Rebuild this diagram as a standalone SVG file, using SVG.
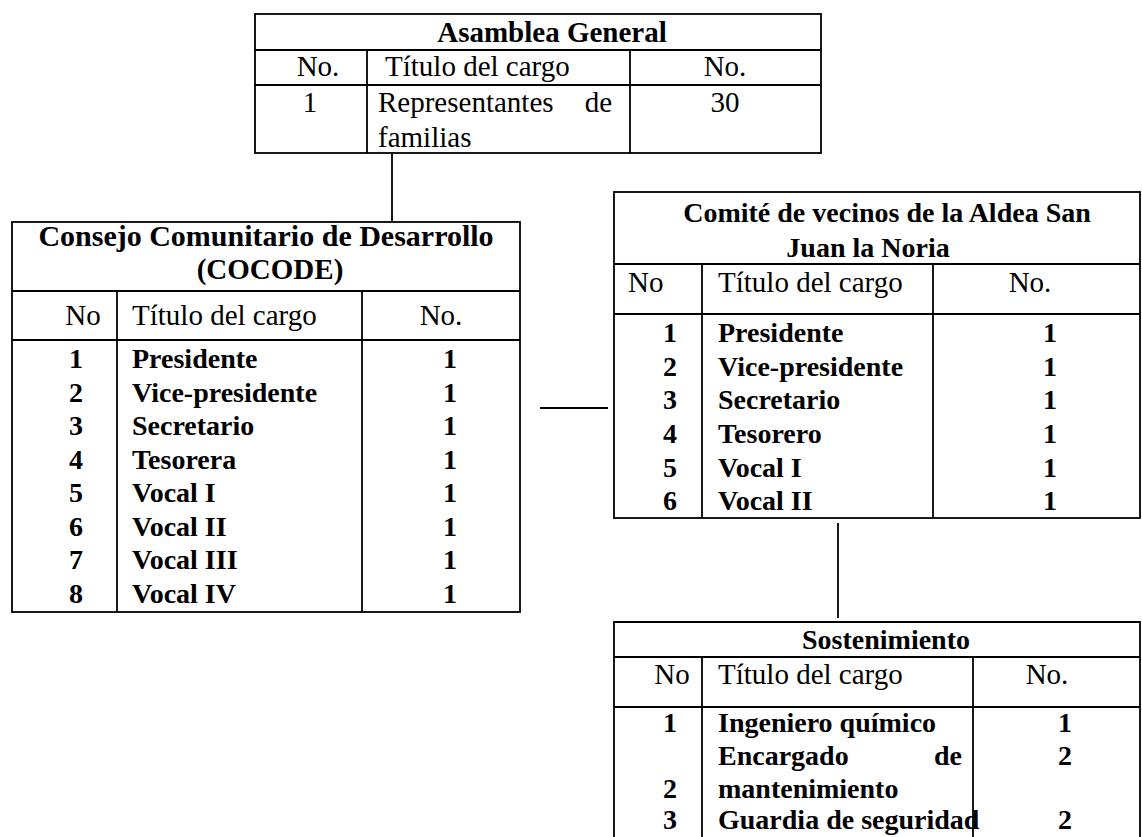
<svg xmlns="http://www.w3.org/2000/svg" width="1142" height="837" viewBox="0 0 1142 837">
<style>
  text { font-family: "Liberation Serif", "Times New Roman", serif; fill: #000; }
  .t { font-size: 29px; font-weight: bold; }
  .h { font-size: 29px; }
  .d { font-size: 28px; font-weight: bold; }
  .m { text-anchor: middle; }
  .e { text-anchor: end; }
  .box { fill: #fff; stroke: #000; stroke-width: 1.8; }
  .ln { stroke: #000; stroke-width: 1.8; fill: none; }
</style>
<rect x="0" y="0" width="1142" height="837" fill="#fff"/>

<g id="connectors">
  <line class="ln" x1="392" y1="153" x2="392" y2="222"/>
  <line class="ln" x1="540" y1="408" x2="608" y2="408"/>
  <line class="ln" x1="838" y1="523" x2="838" y2="618"/>
</g>

<g id="asamblea">
  <rect class="box" x="255" y="14" width="566" height="139"/>
  <line class="ln" x1="255" y1="50" x2="821" y2="50"/>
  <line class="ln" x1="255" y1="85" x2="821" y2="85"/>
  <line class="ln" x1="367" y1="50" x2="367" y2="153"/>
  <line class="ln" x1="630" y1="50" x2="630" y2="153"/>
  <text class="t m" x="552" y="42">Asamblea General</text>
  <text class="h m" x="318" y="76">No.</text>
  <text class="h" x="385" y="76">Título del cargo</text>
  <text class="h m" x="725" y="76">No.</text>
  <text class="h m" x="310" y="112">1</text>
  <text class="h" y="112"><tspan x="378">Representantes</tspan><tspan x="612" text-anchor="end">de</tspan></text>
  <text class="h" x="378" y="147">familias</text>
  <text class="h m" x="725" y="112">30</text>
</g>

<g id="cocode">
  <rect class="box" x="12" y="222" width="508" height="390"/>
  <line class="ln" x1="12" y1="291" x2="520" y2="291"/>
  <line class="ln" x1="12" y1="340" x2="520" y2="340"/>
  <line class="ln" x1="117" y1="291" x2="117" y2="612"/>
  <line class="ln" x1="362" y1="291" x2="362" y2="612"/>
  <text class="t m" x="266" y="246" style="font-size:30px">Consejo Comunitario de Desarrollo</text>
  <text class="t m" x="270" y="279">(COCODE)</text>
  <text class="h m" x="83" y="325">No</text>
  <text class="h" x="132" y="325">Título del cargo</text>
  <text class="h m" x="441" y="325">No.</text>
  <g class="d">
    <text class="m" x="76" y="368">1</text><text x="132" y="368">Presidente</text><text class="m" x="450" y="368">1</text>
    <text class="m" x="76" y="402">2</text><text x="132" y="402">Vice-presidente</text><text class="m" x="450" y="402">1</text>
    <text class="m" x="76" y="435">3</text><text x="132" y="435">Secretario</text><text class="m" x="450" y="435">1</text>
    <text class="m" x="76" y="469">4</text><text x="132" y="469">Tesorera</text><text class="m" x="450" y="469">1</text>
    <text class="m" x="76" y="502">5</text><text x="132" y="502">Vocal I</text><text class="m" x="450" y="502">1</text>
    <text class="m" x="76" y="536">6</text><text x="132" y="536">Vocal II</text><text class="m" x="450" y="536">1</text>
    <text class="m" x="76" y="569">7</text><text x="132" y="569">Vocal III</text><text class="m" x="450" y="569">1</text>
    <text class="m" x="76" y="603">8</text><text x="132" y="603">Vocal IV</text><text class="m" x="450" y="603">1</text>
  </g>
</g>

<g id="comite">
  <rect class="box" x="614" y="192" width="526" height="326"/>
  <line class="ln" x1="614" y1="264" x2="1140" y2="264"/>
  <line class="ln" x1="614" y1="314" x2="1140" y2="314"/>
  <line class="ln" x1="702" y1="264" x2="702" y2="518"/>
  <line class="ln" x1="933" y1="264" x2="933" y2="518"/>
  <text class="t m" x="887" y="222" style="font-size:28px">Comité de vecinos de la Aldea San</text>
  <text class="t m" x="868" y="257" style="font-size:28px">Juan la Noria</text>
  <text class="h" x="628" y="292">No</text>
  <text class="h" x="718" y="292">Título del cargo</text>
  <text class="h m" x="1030" y="292">No.</text>
  <g class="d">
    <text class="m" x="670" y="342">1</text><text x="718" y="342">Presidente</text><text class="m" x="1050" y="342">1</text>
    <text class="m" x="670" y="376">2</text><text x="718" y="376">Vice-presidente</text><text class="m" x="1050" y="376">1</text>
    <text class="m" x="670" y="409">3</text><text x="718" y="409">Secretario</text><text class="m" x="1050" y="409">1</text>
    <text class="m" x="670" y="443">4</text><text x="718" y="443">Tesorero</text><text class="m" x="1050" y="443">1</text>
    <text class="m" x="670" y="477">5</text><text x="718" y="477">Vocal I</text><text class="m" x="1050" y="477">1</text>
    <text class="m" x="670" y="510">6</text><text x="718" y="510">Vocal II</text><text class="m" x="1050" y="510">1</text>
  </g>
</g>

<g id="sostenimiento">
  <path class="ln" d="M614 845 V622 H1140 V845"/>
  <line class="ln" x1="614" y1="657" x2="1140" y2="657"/>
  <line class="ln" x1="614" y1="707" x2="1140" y2="707"/>
  <line class="ln" x1="702" y1="657" x2="702" y2="845"/>
  <line class="ln" x1="973" y1="657" x2="973" y2="845"/>
  <text class="t m" x="886" y="649" style="font-size:28px">Sostenimiento</text>
  <text class="h m" x="672" y="684">No</text>
  <text class="h" x="718" y="684">Título del cargo</text>
  <text class="h m" x="1047" y="684">No.</text>
  <g class="d">
    <text class="m" x="670" y="732">1</text><text x="718" y="732">Ingeniero químico</text><text class="m" x="1065" y="732">1</text>
    <text y="765"><tspan x="718">Encargado</tspan><tspan x="962" text-anchor="end">de</tspan></text><text class="m" x="1065" y="765">2</text>
    <text class="m" x="670" y="798">2</text><text x="718" y="798">mantenimiento</text>
    <text class="m" x="670" y="829">3</text><text x="718" y="829">Guardia de seguridad</text><text class="m" x="1065" y="829">2</text>
  </g>
</g>
</svg>
